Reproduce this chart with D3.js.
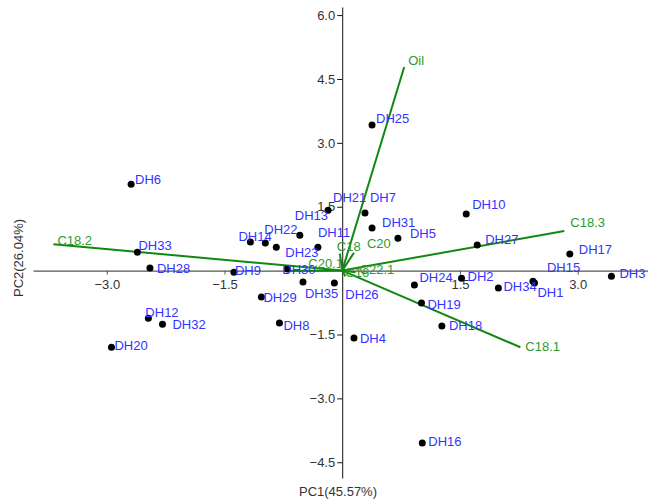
<!DOCTYPE html>
<html>
<head>
<meta charset="utf-8">
<script src="https://cdn.jsdelivr.net/npm/d3@7"></script>
<style>
  body { margin: 0; background: #fff; }
  text { font-family: "Liberation Sans", Arial, sans-serif; }
</style>
</head>
<body>
<div id="divId"></div>
<script>
// sample scores (PC1, PC2)
var sampleNames = ["DH1","DH2","DH3","DH4","DH5","DH6","DH7","DH8","DH9","DH10",
  "DH11","DH12","DH13","DH14","DH15","DH16","DH17","DH18","DH19","DH20",
  "DH21","DH22","DH23","DH24","DH25","DH26","DH27","DH28","DH29","DH30",
  "DH31","DH32","DH33","DH34","DH35"];
var pc1 = [2.45, 1.52, 3.43, 0.15, 0.71, -2.69, 0.29, -0.80, -1.38, 1.58,
  -0.31, -2.47, -0.54, -1.17, 2.43, 1.02, 2.90, 1.27, 1.01, -2.94,
  -0.18, -0.98, -0.84, 0.92, 0.38, -0.10, 1.72, -2.45, -1.03, -0.70,
  0.38, -2.29, -2.61, 1.99, -0.50];
var pc2 = [-0.29, -0.18, -0.13, -1.58, 0.76, 2.03, 1.35, -1.23, -0.04, 1.33,
  0.55, -1.12, 0.83, 0.67, -0.25, -4.05, 0.39, -1.30, -0.76, -1.80,
  1.42, 0.65, 0.55, -0.34, 3.42, -0.29, 0.60, 0.06, -0.62, 0.04,
  1.00, -1.26, 0.43, -0.41, -0.27];

// variable loadings
var varNames = ["Oil", "C18.3", "C18.2", "C18.1", "C18", "C20", "C20.1", "C22.1", "C16"];
var load1 = [0.79, 2.83, -3.68, 2.27, -0.03, 0.15, -0.70, 0.17, 0.04];
var load2 = [4.78, 0.93, 0.62, -1.80, 0.40, 0.42, -0.01, -0.04, -0.13];

var xTicks = [-3.0, -1.5, 1.5, 3.0];
var yTicks = [-4.5, -3.0, -1.5, 1.5, 3.0, 4.5, 6.0];

// label nudges (px) so the names sit like in the original plot
var labelNudge = {
  DH1:[3,10], DH2:[6,-2], DH3:[8,-3], DH4:[6,1], DH5:[12,-5], DH6:[4,-5], DH7:[5,-16],
  DH8:[4,3], DH9:[1,-2], DH10:[6,-9], DH11:[0,-15], DH12:[-3,-6], DH13:[-5,-20],
  DH14:[-12,-6], DH15:[14,-14], DH16:[6,-2], DH17:[9,-4], DH18:[7,0], DH19:[6,2],
  DH20:[3,-2], DH21:[5,-13], DH22:[-1,-13], DH23:[9,5], DH24:[5,-8], DH25:[4,-6],
  DH26:[11,12], DH27:[8,-6], DH28:[7,0], DH29:[2,0], DH30:[-5,1], DH31:[10,-6],
  DH32:[10,0], DH33:[1,-7], DH34:[5,-2], DH35:[2,11]
};
var varNudge = {
  "Oil":[4,-7], "C18.3":[6,-9], "C18.2":[4,-4], "C18.1":[5,-1], "C18":[-3,-7],
  "C20":[13,-9], "C20.1":[21,-8], "C22.1":[4,-3], "C16":[0,-4]
};

var width = 648;
var height = 501;

var x = d3.scaleLinear().domain([-3.94, 3.96]).range([33, 653]);
var y = d3.scaleLinear().domain([-4.87, 6.19]).range([478, 7]);

var chart = d3.select("#divId")
    .append("svg")
    .attr("width", width)
    .attr("height", height);

// axes crossing at the origin
chart.append("g")
    .attr("transform", "translate(0," + y(0) + ")")
    .call(d3.axisBottom(x).tickValues(xTicks).tickFormat(d3.format(".1f")).tickSize(4).tickSizeOuter(0))
    .call(function (g) {
        g.select(".domain").attr("stroke", "#555").attr("stroke-width", 1.3);
        g.selectAll(".tick line").attr("stroke", "#555");
        g.selectAll("text").attr("font-size", 13).attr("fill", "#333").attr("dy", "0.9em");
    });

chart.append("g")
    .attr("transform", "translate(" + x(0) + ",0)")
    .call(d3.axisLeft(y).tickValues(yTicks).tickFormat(d3.format(".1f")).tickSize(5).tickSizeOuter(0))
    .call(function (g) {
        g.select(".domain").attr("stroke", "#111");
        g.selectAll(".tick line").attr("stroke", "#111");
        g.selectAll("text").attr("font-size", 13).attr("fill", "#333").attr("x", -7);
    });

chart.append("text")
    .attr("x", 338)
    .attr("y", 491)
    .attr("text-anchor", "middle")
    .attr("dominant-baseline", "central")
    .attr("font-size", 13)
    .attr("fill", "#333")
    .text("PC1(45.57%)");

chart.append("text")
    .attr("transform", "translate(18,258) rotate(-90)")
    .attr("text-anchor", "middle")
    .attr("dominant-baseline", "central")
    .attr("font-size", 13)
    .attr("fill", "#333")
    .text("PC2(26.04%)");

// loading vectors
var vars = varNames.map(function (n, i) { return { name: n, x: load1[i], y: load2[i] }; });

chart.selectAll("line.vec")
    .data(vars)
    .enter().append("line")
    .attr("class", "vec")
    .attr("x1", x(0))
    .attr("y1", y(0))
    .attr("x2", function (d) { return x(d.x); })
    .attr("y2", function (d) { return y(d.y); })
    .attr("stroke", "#118811")
    .attr("stroke-width", 2);

chart.selectAll("text.vec")
    .data(vars)
    .enter().append("text")
    .attr("class", "vec")
    .attr("x", function (d) { return x(d.x) + varNudge[d.name][0]; })
    .attr("y", function (d) { return y(d.y) + varNudge[d.name][1]; })
    .attr("dominant-baseline", "central")
    .attr("font-size", 13)
    .attr("fill", "#2f9a2f")
    .text(function (d) { return d.name; });

// sample points
var samples = sampleNames.map(function (n, i) { return { name: n, x: pc1[i], y: pc2[i] }; });

chart.selectAll("circle.pt")
    .data(samples)
    .enter().append("circle")
    .attr("class", "pt")
    .attr("cx", function (d) { return x(d.x); })
    .attr("cy", function (d) { return y(d.y); })
    .attr("r", 3.5)
    .attr("fill", "#000");

chart.selectAll("text.pt")
    .data(samples)
    .enter().append("text")
    .attr("class", "pt")
    .attr("x", function (d) { return x(d.x) + labelNudge[d.name][0]; })
    .attr("y", function (d) { return y(d.y) + labelNudge[d.name][1]; })
    .attr("dominant-baseline", "central")
    .attr("font-size", 13)
    .attr("fill", "#3333ff")
    .text(function (d) { return d.name; });
</script>
</body>
</html>
